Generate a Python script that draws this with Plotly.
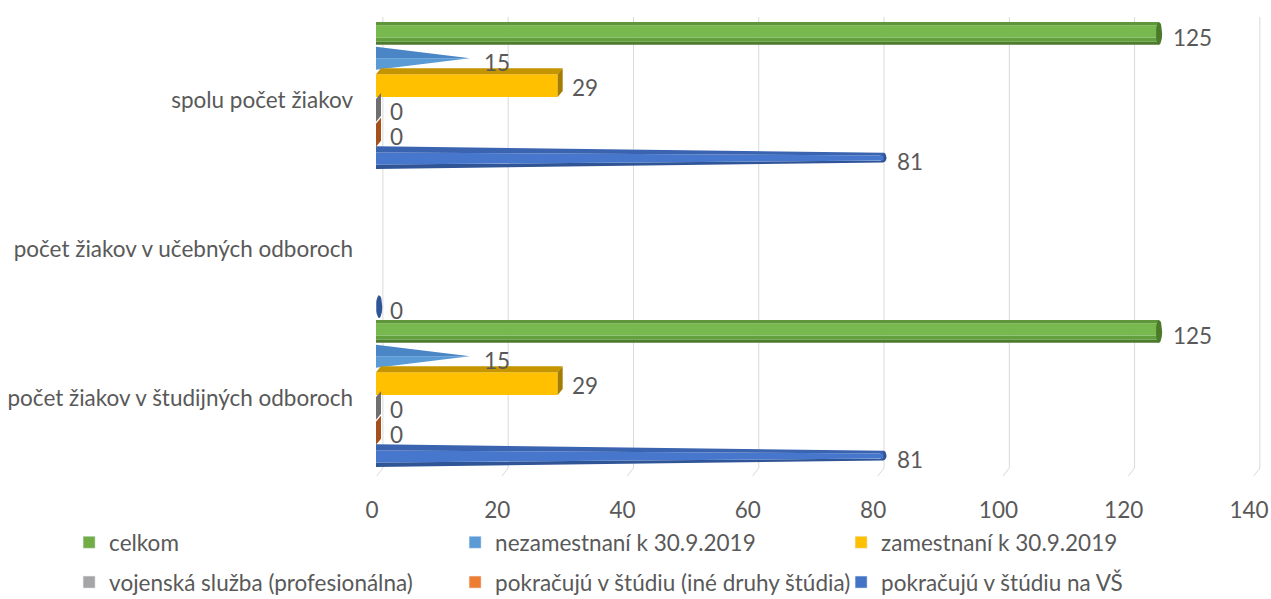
import numpy as np
import plotly.graph_objects as go

# ---------------- data ----------------
categories = [
    "počet žiakov v študijných odboroch",
    "počet žiakov v učebných odboroch",
    "spolu počet žiakov",
]
# series listed bottom -> top inside each category group
series_names = [
    "pokračujú v štúdiu na VŠ",
    "pokračujú v štúdiu (iné druhy štúdia)",
    "vojenská služba (profesionálna)",
    "zamestnaní k 30.9.2019",
    "nezamestnaní k 30.9.2019",
    "celkom",
]
pokracuju_vs = [81, 0, 81]
pokracuju_ine = [0, None, 0]
vojenska = [0, None, 0]
zamestnani = [29, None, 29]
nezamestnani = [15, None, 15]
celkom = [125, None, 125]
series_values = [pokracuju_vs, pokracuju_ine, vojenska, zamestnani, nezamestnani, celkom]

x_ticks = [0, 20, 40, 60, 80, 100, 120, 140]
x_tick_labels = ["0", "20", "40", "60", "80", "100", "120", "140"]

# ---------------- styles ----------------
X_MAX = 140
X_VIEW = 141.6   # a little room to the right for the 3D back-wall gridline
H = 0.92      # bar thickness (in slot units)
DX = 0.8      # 3D depth offset along value axis
DY = 0.24     # 3D depth offset along category axis
RX = 0.5      # end-cap ellipse radius along value axis
WALL = 1.1    # back-wall gridline offset (value units)
TEXT = "#595959"
GRID = "#D9D9D9"
FONT = "Lato"
FS = 22.5

styles = {
    "celkom": dict(shape="cylinder", legend="#70AD47",
                   bands=[(0.0, 0.14, "#4E7B2F"), (0.14, 0.32, "#62A03E"),
                          (0.32, 0.86, "#77B94E"), (0.86, 1.0, "#5F953B")],
                   cap="#4B7A2A"),
    "nezamestnaní k 30.9.2019": dict(shape="cone", legend="#5B9BD5",
                                     lower="#5B9BD5", upper="#4A86C5"),
    "zamestnaní k 30.9.2019": dict(shape="box", legend="#FFC000",
                                   front="#FFC000", top="#C59500", side="#A47C00"),
    "vojenská služba (profesionálna)": dict(shape="box", legend="#A5A5A5",
                                            front="#A5A5A5", top="#8C8C8C", side="#6F6F6F"),
    "pokračujú v štúdiu (iné druhy štúdia)": dict(shape="box", legend="#ED7D31",
                                                  front="#ED7D31", top="#C9652A", side="#A5501B"),
    "pokračujú v štúdiu na VŠ": dict(shape="conemax", legend="#4472C4",
                                     bands=[(0.0, 0.2, "#2F5597"), (0.2, 0.72, "#4677CC"),
                                            (0.72, 1.0, "#3A63B0")],
                                     cap="#2F5597"),
}

n_series = len(series_names)


def slot(cat_idx, s_idx):
    return cat_idx * n_series + s_idx


def ellipse(cx, cy, rx, ry, n=24):
    t = np.linspace(0, 2 * np.pi, n)
    return list(cx + rx * np.cos(t)), list(cy + ry * np.sin(t))


def polys_for(shape_style, v, y):
    """returns dict color -> list of polygons (xs, ys)"""
    out = {}

    def add(color, xs, ys):
        out.setdefault(color, []).append((list(xs), list(ys)))

    sh = shape_style["shape"]
    h2 = H / 2
    if sh == "cylinder":
        for f0, f1, c in shape_style["bands"]:
            y0 = y - h2 + f0 * H
            y1 = y - h2 + f1 * H
            add(c, [0, v, v, 0], [y0, y0, y1, y1])
        ex, ey = ellipse(max(v, RX), y, RX, h2)
        add(shape_style["cap"], ex, ey)
    elif sh == "cone":
        add(shape_style["lower"], [0, v, 0], [y - h2, y, y])
        add(shape_style["upper"], [0, v, 0], [y, y, y + h2])
    elif sh == "conemax":
        r1 = h2 * (1 - v / X_MAX)
        for f0, f1, c in shape_style["bands"]:
            a0 = y - h2 + f0 * H
            a1 = y - h2 + f1 * H
            b0 = y - r1 + f0 * 2 * r1
            b1 = y - r1 + f1 * 2 * r1
            add(c, [0, v, v, 0], [a0, b0, b1, a1])
        ex, ey = ellipse(max(v, RX), y, RX, r1)
        add(shape_style["cap"], ex, ey)
    elif sh == "box":
        o = 0.1
        yb = y - h2 - o
        yt = y + h2 - o
        if v > 0:
            add(shape_style["front"], [0, v, v, 0], [yb, yb, yt, yt])
            add(shape_style["top"], [0, v, v + DX, DX], [yt, yt, yt + DY, yt + DY])
        add(shape_style["side"], [v, v, v + DX, v + DX], [yb, yt, yt + DY, yb + DY])
    return out


fig = go.Figure()

# draw from the top series down so lower series overlap the ones above
draw_order = list(range(n_series))[::-1]
annotations = []
for s_idx in draw_order:
    name = series_names[s_idx]
    st = styles[name]
    color_polys = {}
    for c_idx, v in enumerate(series_values[s_idx]):
        if v is None:
            continue
        y = slot(c_idx, s_idx)
        for col, plist in polys_for(st, v, y).items():
            color_polys.setdefault(col, []).extend(plist)
        annotations.append(dict(
            x=v, y=y, xref="x", yref="y", text=str(v), showarrow=False,
            xanchor="left", yanchor="middle", xshift=12, yshift=-4,
            font=dict(family=FONT, size=FS, color=TEXT),
        ))
    for col, plist in color_polys.items():
        xs, ys = [], []
        for px, py in plist:
            xs += px + [px[0], None]
            ys += py + [py[0], None]
        fig.add_trace(go.Scatter(
            x=xs, y=ys, mode="lines", fill="toself", fillcolor=col,
            line=dict(width=0, color=col), hoverinfo="skip", showlegend=False,
            name=name,
        ))

# legend entries (two rows, as in the reference)
row1 = ["celkom", "nezamestnaní k 30.9.2019", "zamestnaní k 30.9.2019"]
row2 = ["vojenská služba (profesionálna)", "pokračujú v štúdiu (iné druhy štúdia)",
        "pokračujú v štúdiu na VŠ"]
for rank, name in enumerate(row1):
    fig.add_trace(go.Bar(x=[None], y=[None], orientation="h", name=name,
                         marker_color=styles[name]["legend"], legend="legend",
                         legendrank=rank + 1, showlegend=True))
for rank, name in enumerate(row2):
    fig.add_trace(go.Bar(x=[None], y=[None], orientation="h", name=name,
                         marker_color=styles[name]["legend"], legend="legend2",
                         legendrank=rank + 1, showlegend=True))

# 3D back-wall gridlines with short floor segments
grid_shapes = []
for t in x_ticks:
    grid_shapes.append(dict(type="line", xref="x", yref="paper", layer="below",
                            x0=t + WALL, x1=t + WALL, y0=0, y1=1.009,
                            line=dict(color=GRID, width=1)))
    grid_shapes.append(dict(type="line", xref="x", yref="paper", layer="below",
                            x0=t + WALL, x1=t + WALL * 0.1, y0=0, y1=-0.018,
                            line=dict(color=GRID, width=1)))

cat_centers = [slot(i, (n_series - 1) / 2) - 0.2 for i in range(len(categories))]

legend_common = dict(
    orientation="h", xanchor="left", yanchor="middle",
    x=-0.346, entrywidth=341, entrywidthmode="pixels",
    font=dict(family=FONT, size=FS, color=TEXT),
    bgcolor="rgba(0,0,0,0)", itemclick=False, itemdoubleclick=False,
)

fig.update_layout(
    width=1271, height=599,
    margin=dict(l=376, r=8, t=21, b=131, autoexpand=False),
    paper_bgcolor="white", plot_bgcolor="white",
    font=dict(family=FONT, size=FS, color=TEXT),
    hovermode=False,
    annotations=annotations,
    shapes=grid_shapes,
    legend=dict(**legend_common, y=-0.167),
    legend2=dict(**legend_common, y=-0.256),
    xaxis=dict(
        range=[0, X_VIEW], tickmode="array", tickvals=x_ticks, ticktext=x_tick_labels,
        showgrid=False, zeroline=False, ticklabeloverflow="allow", ticklabelshift=-4,
        showline=False, ticks="", ticklabelstandoff=26, automargin=False,
        tickfont=dict(family=FONT, size=FS, color=TEXT), fixedrange=True,
    ),
    yaxis=dict(
        range=[-0.5, n_series * len(categories) - 0.5], tickmode="array",
        tickvals=cat_centers, ticktext=categories,
        showgrid=False, zeroline=False, showline=False, ticks="",
        ticklabelstandoff=22, automargin=False,
        tickfont=dict(family=FONT, size=FS, color=TEXT), fixedrange=True,
    ),
)

fig.write_html(
    "out.html",
    config={"displayModeBar": False},
    post_script="document.body.style.margin='0';document.body.style.overflow='hidden';",
)
